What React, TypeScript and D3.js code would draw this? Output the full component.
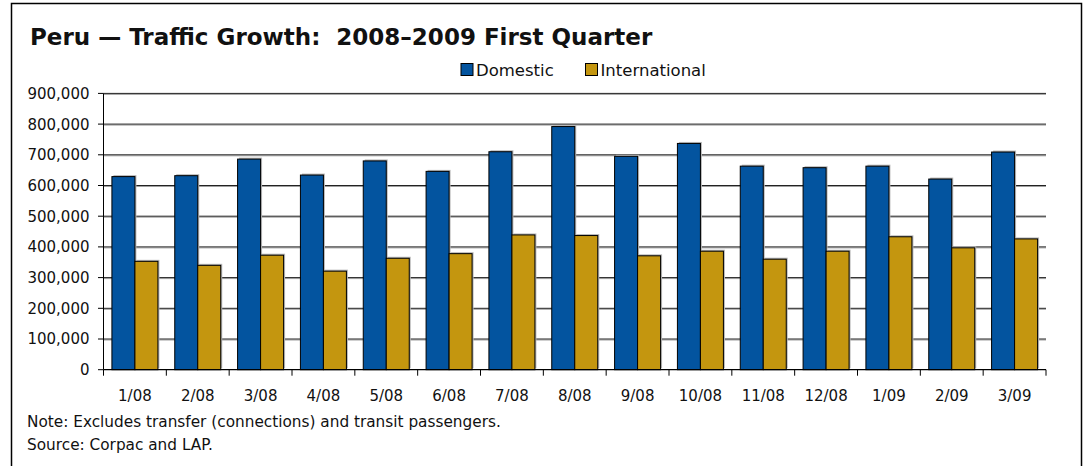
import React from "react";
import * as d3 from "d3";

const months = ["1/08","2/08","3/08","4/08","5/08","6/08","7/08","8/08","9/08","10/08","11/08","12/08","1/09","2/09","3/09"];
const domestic = [629000,632000,686000,634000,680000,646000,710000,792000,695000,737000,663000,658000,663000,621000,709000];
const international = [353000,340000,373000,321000,363000,378000,439000,437000,371000,386000,360000,386000,433000,397000,426000];
const seriesNames = ["Domestic","International"];
const seriesColors = ["#03549F","#C4960F"];
const yTicks = [0,100000,200000,300000,400000,500000,600000,700000,800000,900000];

const W = 1086, H = 466;
const FONT = "'DejaVu Sans', Verdana, sans-serif";

export default function App() {
  const x0 = d3.scaleBand<string>().domain(months).range([103.5, 1046]).padding(0);
  const x1 = d3.scaleBand<string>().domain(seriesNames).range([0, x0.bandwidth()]).paddingInner(0).paddingOuter(0.366);
  const y = d3.scaleLinear().domain([0, 900000]).range([369.7, 93.4]);
  const fmt = d3.format(",");
  const data = [domestic, international];
  const plotL = 103.5, plotR = 1046;
  const y0 = y(0);
  const legendX = [461, 585.5];

  return (
    <svg width={W} height={H} style={{ position: "absolute", left: 0, top: 0, background: "#fff" }}>
      <rect x={0} y={0} width={W} height={H} fill="#fff" />
      <rect x={11.5} y={3.5} width={1070} height={520} fill="none" stroke="#000" strokeWidth={1.5} />
      <text x={30} y={44.5} fontFamily={FONT} fontWeight="bold" fontSize={23} fill="#111" style={{ whiteSpace: "pre" }}>
        {"Peru — Traffic Growth:  2008–2009 First Quarter"}
      </text>
      {/* legend */}
      {seriesNames.map((s, i) => {
        const lx = legendX[i];
        return (
          <g key={s}>
            <rect x={lx} y={63.5} width={12} height={12} fill={seriesColors[i]} stroke="#000" strokeWidth={1} />
            <text x={lx + 15} y={75.5} fontFamily={FONT} fontSize={16.5} fill="#111">{s}</text>
          </g>
        );
      })}
      {/* gridlines */}
      {yTicks.filter(t => t > 0).map(t => (
        <g key={t}>
          <line x1={plotL} x2={plotR} y1={y(t) + 1} y2={y(t) + 1} stroke="#a0a0a0" strokeWidth={1} />
          <line x1={plotL} x2={plotR} y1={y(t)} y2={y(t)} stroke="#222" strokeWidth={1} />
        </g>
      ))}
      {/* bars */}
      {months.map((m, mi) => (
        <g key={m} transform={`translate(${x0(m)},0)`}>
          {seriesNames.map((s, si) => {
            const v = data[si][mi];
            const bx = x1(s)!;
            const by = y(v);
            return (
              <g key={s}>
                <rect x={bx + 1.5} y={by - 1.5} width={x1.bandwidth()} height={y0 - by} fill="#b8b8b8" />
                <rect x={bx} y={by} width={x1.bandwidth()} height={y0 - by} fill={seriesColors[si]} stroke="#000" strokeWidth={1} />
              </g>
            );
          })}
        </g>
      ))}
      {/* y axis */}
      <line x1={plotL} x2={plotL} y1={y(900000)} y2={y0} stroke="#000" strokeWidth={1} />
      {yTicks.map(t => (
        <g key={t}>
          <line x1={plotL - 5.5} x2={plotL} y1={y(t)} y2={y(t)} stroke="#000" strokeWidth={1} />
          <text x={89.5} y={y(t)} dy="0.36em" textAnchor="end" fontFamily={FONT} fontSize={15} fill="#111">{fmt(t)}</text>
        </g>
      ))}
      {/* x axis */}
      <line x1={plotL} x2={plotR} y1={y0} y2={y0} stroke="#000" strokeWidth={1.2} />
      {months.map((m) => (
        <line key={"t" + m} x1={x0(m)! + x0.bandwidth()} x2={x0(m)! + x0.bandwidth()} y1={y0} y2={y0 + 6} stroke="#000" strokeWidth={1} />
      ))}
      <line x1={plotL} x2={plotL} y1={y0} y2={y0 + 6} stroke="#000" strokeWidth={1} />
      {months.map(m => (
        <text key={"l" + m} x={x0(m)! + x0.bandwidth() / 2} y={401} textAnchor="middle" fontFamily={FONT} fontSize={15} fill="#111">{m}</text>
      ))}
      <text x={27} y={426.5} fontFamily={FONT} fontSize={15.3} fill="#111">Note: Excludes transfer (connections) and transit passengers.</text>
      <text x={27} y={450} fontFamily={FONT} fontSize={15.3} fill="#111">Source: Corpac and LAP.</text>
    </svg>
  );
}
